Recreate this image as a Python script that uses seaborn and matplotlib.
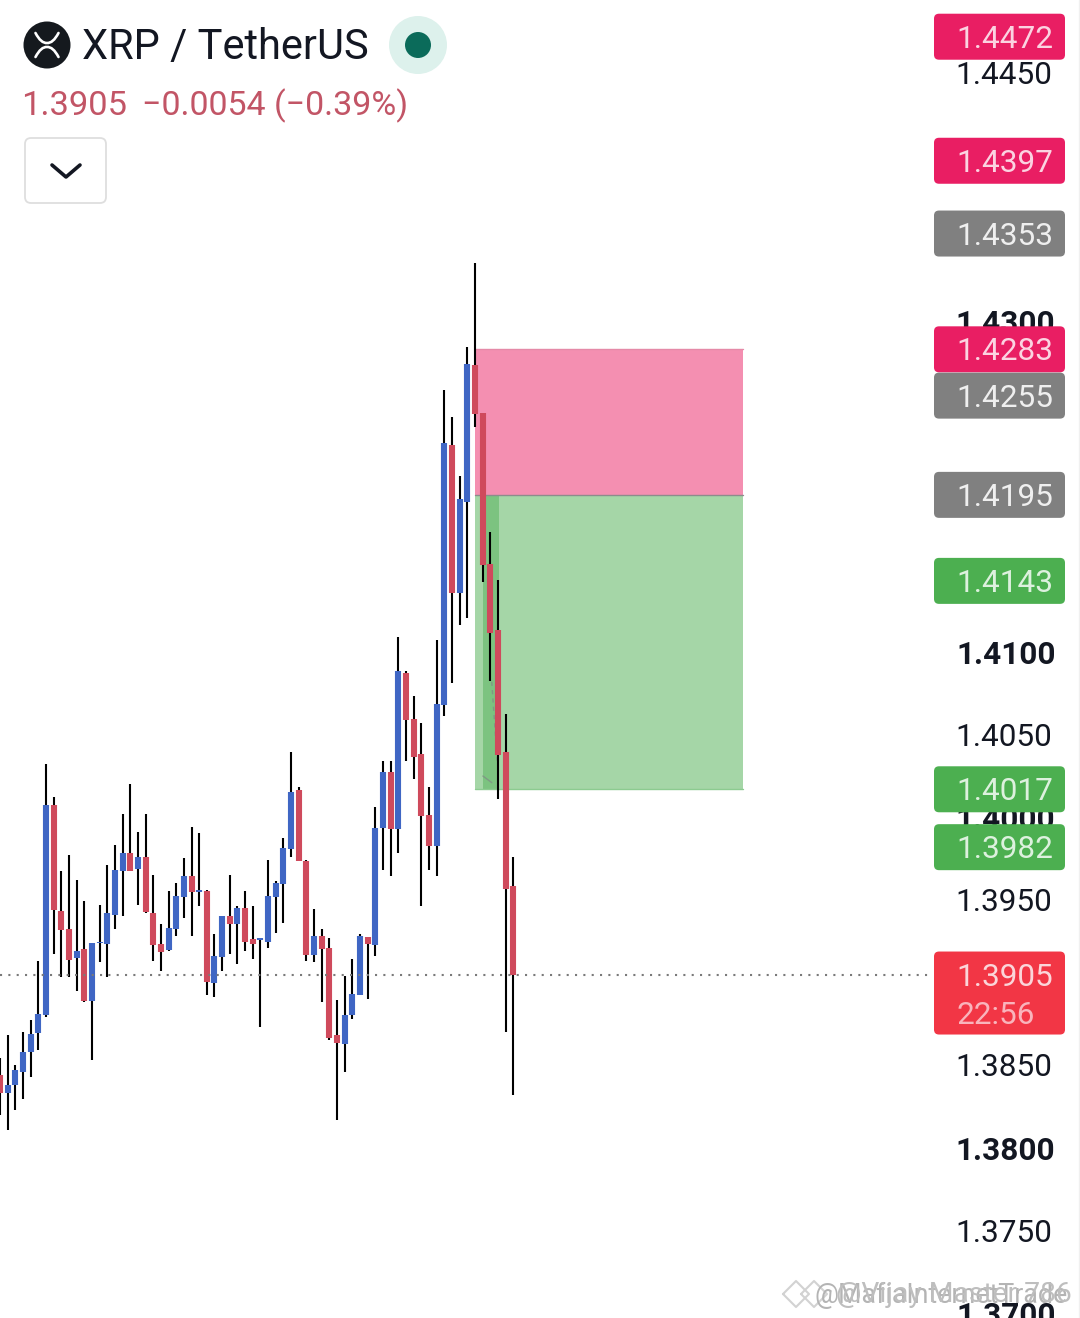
import matplotlib
matplotlib.use("Agg")
import matplotlib.pyplot as plt
from matplotlib.patches import Circle, FancyBboxPatch, PathPatch
from matplotlib.path import Path
import pandas as pd
import seaborn as sns

# ==========================================
# DATA
# ==========================================
opens = [1.38443, 1.38334, 1.38382, 1.38461, 1.38582, 1.38696, 1.38805, 1.40075, 1.39434, 1.39325,
         1.39150, 1.39204, 1.38890, 1.39241, 1.39235, 1.39410, 1.39676, 1.39785, 1.39688, 1.39761,
         1.39422, 1.39235, 1.39198, 1.39325, 1.39519, 1.39646, 1.39549, 1.39555, 1.38999, 1.39156,
         1.39404, 1.39355, 1.39452, 1.39265, 1.39259, 1.39247, 1.39519, 1.39597, 1.39809, 1.40166,
         1.39736, 1.39168, 1.39283, 1.39210, 1.38684, 1.38630, 1.38805, 1.38926, 1.39277, 1.39229,
         1.39936, 1.40274, 1.39930, 1.40873, 1.40595, 1.40383, 1.40015, 1.39827, 1.40680, 1.42252,
         1.41357, 1.41907, 1.42735, 1.42445, 1.41532, 1.41133, 1.40395, 1.39585]
closes = [1.38334, 1.38382, 1.38473, 1.38582, 1.38690, 1.38811, 1.40075, 1.39440, 1.39319, 1.39138,
          1.39192, 1.38890, 1.39241, 1.39247, 1.39422, 1.39682, 1.39785, 1.39676, 1.39761, 1.39428,
          1.39229, 1.39186, 1.39331, 1.39525, 1.39646, 1.39549, 1.39561, 1.39005, 1.39162, 1.39404,
          1.39355, 1.39452, 1.39247, 1.39235, 1.39271, 1.39525, 1.39603, 1.39815, 1.40154, 1.39736,
          1.39168, 1.39283, 1.39204, 1.38666, 1.38636, 1.38805, 1.38932, 1.39283, 1.39235, 1.39936,
          1.40274, 1.39930, 1.40885, 1.40589, 1.40365, 1.40008, 1.39827, 1.40686, 1.42264, 1.41357,
          1.41925, 1.42741, 1.42439, 1.41526, 1.41115, 1.40377, 1.39567, 1.39047]
highs = [1.38545, 1.38684, 1.38503, 1.38703, 1.38775, 1.39132, 1.40323, 1.40123, 1.39676, 1.39773,
         1.39622, 1.39495, 1.39241, 1.39470, 1.39712, 1.39833, 1.40021, 1.40202, 1.39912, 1.40021,
         1.39652, 1.39355, 1.39555, 1.39603, 1.39755, 1.39942, 1.39906, 1.39561, 1.39295, 1.39404,
         1.39652, 1.39464, 1.39555, 1.39464, 1.39271, 1.39742, 1.39615, 1.39875, 1.40395, 1.40184,
         1.39742, 1.39446, 1.39325, 1.39271, 1.38896, 1.39041, 1.39144, 1.39295, 1.39277, 1.40063,
         1.40341, 1.40341, 1.41091, 1.40885, 1.40734, 1.40571, 1.40184, 1.41073, 1.42584, 1.42421,
         1.42064, 1.42844, 1.43352, 1.42445, 1.41726, 1.41435, 1.40625, 1.39761]
lows = [1.38201, 1.38110, 1.38231, 1.38297, 1.38430, 1.38594, 1.38793, 1.39174, 1.39035, 1.39035,
        1.38950, 1.38884, 1.38533, 1.39126, 1.39035, 1.39325, 1.39404, 1.39676, 1.39470, 1.39422,
        1.39132, 1.39071, 1.39192, 1.39283, 1.39392, 1.39283, 1.39464, 1.38926, 1.38914, 1.39071,
        1.39174, 1.39114, 1.39192, 1.39144, 1.38733, 1.39210, 1.39301, 1.39362, 1.39761, 1.39736,
        1.39132, 1.39126, 1.38884, 1.38654, 1.38170, 1.38461, 1.38781, 1.38926, 1.38902, 1.39162,
        1.39682, 1.39646, 1.39785, 1.40341, 1.40232, 1.39464, 1.39682, 1.39646, 1.40613, 1.40813,
        1.41163, 1.41206, 1.42360, 1.41423, 1.40825, 1.40111, 1.38703, 1.38322]

axis_prices = [1.4450, 1.4300, 1.4100, 1.4050, 1.4000, 1.3950, 1.3850, 1.3800, 1.3750, 1.3700]
axis_bold = [False, True, True, False, True, False, False, True, False, True]

tag_prices = [1.4472, 1.4397, 1.4353, 1.4283, 1.4255, 1.4195, 1.4143, 1.4017, 1.3982]
tag_kinds = ["pink", "pink", "gray", "pink", "gray", "gray", "green", "green", "green"]

last_price = 1.3905
countdown = "22:56"
stop_price = 1.4283
entry_price = 1.4195
target_price = 1.4017
zone_start = 62
zone_end = 97.0
drawn_start = 63
drawn_end = 65.1
dash_idx = [64.2, 64.9]
dash_price = [1.4082, 1.4034]
tick_idx = [63.05, 64.2]
tick_price = [1.4025, 1.4021]

COLORS = {"pink": "#E91E63", "gray": "#808080", "green": "#4CAF50"}
TAG_TEXT = {"pink": "#FBD3E1", "gray": "#EFEFEF", "green": "#DDF1DE"}
UP = "#3F66C4"
DOWN = "#CF4A5C"
PX_W, PX_H = 1080, 1318
TEXT_DROP = 2.5  # Roboto sits a little high with va=center

sns.set_theme(style="white")
plt.rcParams["font.family"] = ["Roboto", "DejaVu Sans"]


def build_frames():
    idx = list(range(len(opens)))
    direction = ["up" if c >= o else "down" for o, c in zip(opens, closes)]
    wicks = pd.DataFrame({
        "idx": idx * 2,
        "price": highs + lows,
    })
    bodies = pd.DataFrame({
        "idx": idx * 2,
        "price": opens + closes,
        "direction": direction * 2,
    })
    return wicks, bodies


def draw_candles(ax):
    wicks, bodies = build_frames()
    sns.lineplot(data=wicks, x="idx", y="price", units="idx", estimator=None,
                 color="black", linewidth=1.5, solid_capstyle="butt", zorder=4,
                 legend=False, ax=ax)
    sns.lineplot(data=bodies, x="idx", y="price", units="idx", estimator=None,
                 hue="direction", palette={"up": UP, "down": DOWN}, linewidth=4.4,
                 solid_capstyle="butt", zorder=5, legend=False, ax=ax)


def draw_zones(ax):
    ax.fill_between([zone_start, zone_end], entry_price, stop_price, color="#F48FB1", lw=0, zorder=1)
    ax.fill_between([zone_start, zone_end], target_price, entry_price, color="#A5D6A7", lw=0, zorder=1)
    ax.fill_between([drawn_start, drawn_end], target_price, entry_price, color="#7CC380", lw=0, zorder=2)
    ax.plot([zone_start, zone_end], [stop_price, stop_price], color="#E58AA8", lw=1, zorder=3)
    ax.plot([zone_start, zone_end], [entry_price, entry_price], color="#8C8C8C", lw=1, zorder=3)
    ax.plot([zone_start, zone_end], [target_price, target_price], color="#8CCB90", lw=1, zorder=3)
    ax.plot(dash_idx, dash_price, color="#7F9A84", lw=1, ls=(0, (3, 3)), zorder=3)
    ax.plot(tick_idx, tick_price, color="#7F9A84", lw=1, zorder=3)


def draw_header(ui):
    # logo
    ui.add_patch(Circle((47, 45), 23.5, color="#15191E", lw=0))
    for y_end, y_mid in [(33, 43), (57, 47)]:
        bend = y_mid + (y_mid - y_end) * 0.05
        path = Path([(35.5, y_end), (41, bend), (47, y_mid), (53, bend), (58.5, y_end)],
                    [Path.MOVETO, Path.CURVE3, Path.CURVE3, Path.CURVE3, Path.CURVE3])
        ui.add_patch(PathPatch(path, fill=False, ec="white", lw=1.9, capstyle="round"))
    ui.text(82, 44 + 3, "XRP / TetherUS", fontsize=30, color="#131722", va="center", ha="left")
    # market status dot
    ui.add_patch(Circle((418, 45), 29, color="#DDF1EC", lw=0))
    ui.add_patch(Circle((418, 45), 13, color="#0B6B5A", lw=0))
    ui.text(21, 103 + 3, "1.3905", fontsize=24.8, color="#C25566", va="center", ha="left")
    ui.text(142, 103 + 3, "\u22120.0054 (\u22120.39%)", fontsize=24.5, color="#C25566", va="center", ha="left")
    # collapse button
    ui.add_patch(FancyBboxPatch((25, 138), 81, 65, boxstyle="round,pad=0,rounding_size=6",
                                fc="white", ec="#DEDEDE", lw=1.3))
    ui.plot([52, 66, 80], [165, 177, 165], color="#131722", lw=2.6, solid_capstyle="round",
            solid_joinstyle="round")


def draw_tag(ui, top, height, color):
    ui.add_patch(FancyBboxPatch((934, top), 131, height, boxstyle="round,pad=0,rounding_size=5",
                                fc=color, ec="none", zorder=6))


def draw_price_scale(ui, price_y):
    for price, bold in zip(axis_prices, axis_bold):
        ui.text(1055.5 if bold else 1052.5, price_y(price) + TEXT_DROP, f"{price:.4f}", fontsize=22.7,
                color="#131722", ha="right", va="center",
                fontweight="bold" if bold else "normal", zorder=5)
    for price, kind in zip(tag_prices, tag_kinds):
        y = price_y(price)
        draw_tag(ui, y - 23, 46, COLORS[kind])
        ui.text(956.5, y + TEXT_DROP, f"{price:.4f}", fontsize=22.7, color=TAG_TEXT[kind],
                ha="left", va="center", zorder=7)
    # last price tag with countdown
    y = price_y(last_price)
    draw_tag(ui, y - 23, 83, "#F23645")
    ui.text(956.5, y + TEXT_DROP, f"{last_price:.4f}", fontsize=22.7, color="#FBD5D9", ha="left", va="center", zorder=7)
    ui.text(956.5, y + 38 + TEXT_DROP, countdown, fontsize=22.7, color="#F9B4BC", ha="left", va="center", zorder=7)
    ui.plot([1079, 1079], [0, PX_H], color="#F0F0F0", lw=1)


def draw_watermark(ui):
    for x in [796, 814]:
        ui.plot([x - 13, x, x + 13, x, x - 13], [1294, 1281, 1294, 1307, 1294], color="#D2D2D2", lw=1.5, zorder=8)
    ui.text(814, 1295, "@MafiaInternetTrade", fontsize=19.3, color="#B4B4B4", ha="left", va="center", zorder=8)
    ui.text(836, 1295, "@Vijay Master 786", fontsize=20.3, color="#BEBEBE", ha="left", va="center", zorder=8)


def main():
    fig = plt.figure(figsize=(PX_W / 100, PX_H / 100), dpi=100, facecolor="white")
    ax = fig.add_axes([0, 0, 1, 1])
    ax.set_xlim(0, PX_W / 7.66)
    # price scale: 1.4100 sits at pixel row 652, 0.005 is about 82.7 px
    ax.set_ylim(1.41 - (PX_H - 652) / 16540, 1.41 + 652 / 16540)
    ax.axis("off")

    draw_zones(ax)
    draw_candles(ax)
    ax.set_xlim(0, PX_W / 7.66)
    ax.set_ylim(1.41 - (PX_H - 652) / 16540, 1.41 + 652 / 16540)
    ax.plot([0, 932 / 7.66], [last_price, last_price], color="#7A7A7A", lw=1.5, ls=(0, (1, 3)), zorder=6)

    ui = fig.add_axes([0, 0, 1, 1], facecolor="none")
    ui.set_xlim(0, PX_W)
    ui.set_ylim(PX_H, 0)
    ui.axis("off")

    def price_y(p):
        return ui.transData.inverted().transform(ax.transData.transform((0, p)))[1]

    draw_header(ui)
    draw_price_scale(ui, price_y)
    draw_watermark(ui)
    ui.set_xlim(0, PX_W)
    ui.set_ylim(PX_H, 0)

    fig.savefig("out.png", dpi=100)


if __name__ == "__main__":
    main()
